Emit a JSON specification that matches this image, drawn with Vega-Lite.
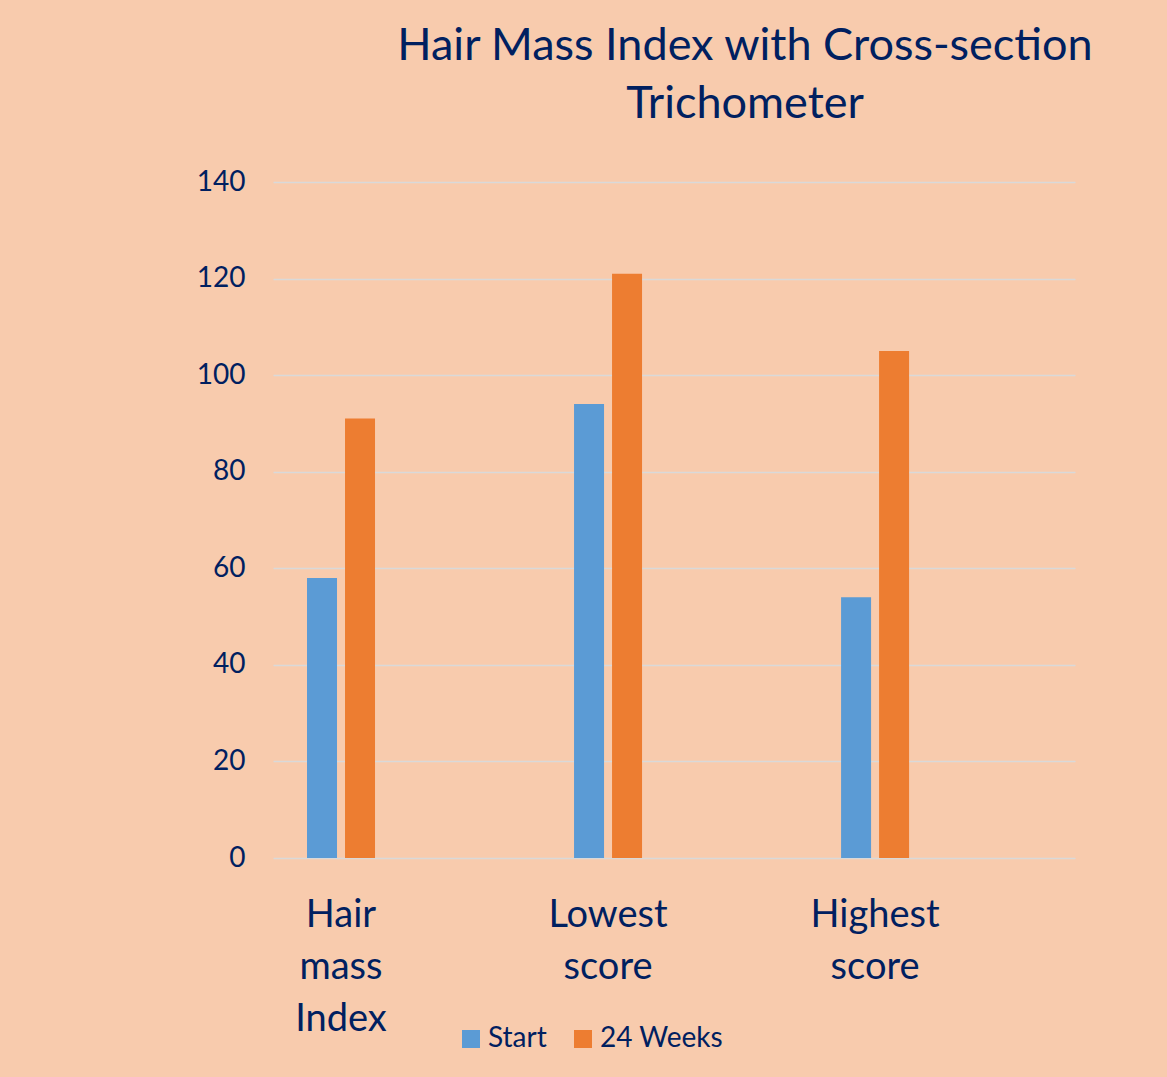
{
  "$schema": "https://vega.github.io/schema/vega-lite/v6.json",
  "autosize": {"type": "none"},
  "padding": {"left": 273, "top": 182, "right": 92, "bottom": 219},
  "width": 802,
  "height": 676,
  "background": "#F8CBAD",
  "title": {
    "text": ["Hair Mass Index with Cross-section", "Trichometer"],
    "anchor": "middle",
    "frame": "group",
    "dx": 71,
    "offset": 41,
    "fontSize": 45,
    "font": "Lato",
    "fontWeight": "normal",
    "color": "#002060",
    "lineHeight": 58
  },
  "config": {
    "view": {"stroke": null},
    "font": "Lato"
  },
  "data": {
    "values": [
      {"category": "Hair mass Index", "series": "Start", "value": 58},
      {"category": "Hair mass Index", "series": "24 Weeks", "value": 91},
      {"category": "Lowest score", "series": "Start", "value": 94},
      {"category": "Lowest score", "series": "24 Weeks", "value": 121},
      {"category": "Highest score", "series": "Start", "value": 54},
      {"category": "Highest score", "series": "24 Weeks", "value": 105}
    ]
  },
  "mark": {"type": "bar"},
  "encoding": {
    "x": {
      "field": "category",
      "type": "nominal",
      "sort": ["Hair mass Index", "Lowest score", "Highest score"],
      "scale": {"paddingInner": 0.4906, "paddingOuter": 0.247, "align": 0},
      "axis": {
        "title": null,
        "domain": false,
        "ticks": false,
        "grid": false,
        "labelAngle": 0,
        "labelExpr": "split(datum.label, ' ')",
        "labelFontSize": 38,
        "labelColor": "#002060",
        "labelLineHeight": 52,
        "labelPadding": 38,
        "labelFont": "Lato"
      }
    },
    "xOffset": {
      "field": "series",
      "type": "nominal",
      "sort": ["Start", "24 Weeks"],
      "scale": {"paddingInner": 0.2105, "paddingOuter": 0.895}
    },
    "y": {
      "field": "value",
      "type": "quantitative",
      "scale": {"domain": [0, 140]},
      "axis": {
        "title": null,
        "values": [0, 20, 40, 60, 80, 100, 120, 140],
        "domain": false,
        "ticks": false,
        "grid": true,
        "gridColor": "#D9D9D9",
        "gridWidth": 1.5,
        "labelFontSize": 28,
        "labelColor": "#002060",
        "labelPadding": 28,
        "labelFont": "Lato"
      }
    },
    "color": {
      "field": "series",
      "type": "nominal",
      "sort": ["Start", "24 Weeks"],
      "scale": {"domain": ["Start", "24 Weeks"], "range": ["#5B9BD5", "#ED7D31"]},
      "legend": {
        "title": null,
        "orient": "none",
        "direction": "horizontal",
        "legendX": 184,
        "legendY": 843,
        "symbolType": "square",
        "symbolSize": 324,
        "symbolStrokeWidth": 0,
        "symbolOpacity": 1,
        "labelFontSize": 28,
        "labelColor": "#002060",
        "labelOffset": 3,
        "columnPadding": 22,
        "labelFont": "Lato"
      }
    }
  }
}
